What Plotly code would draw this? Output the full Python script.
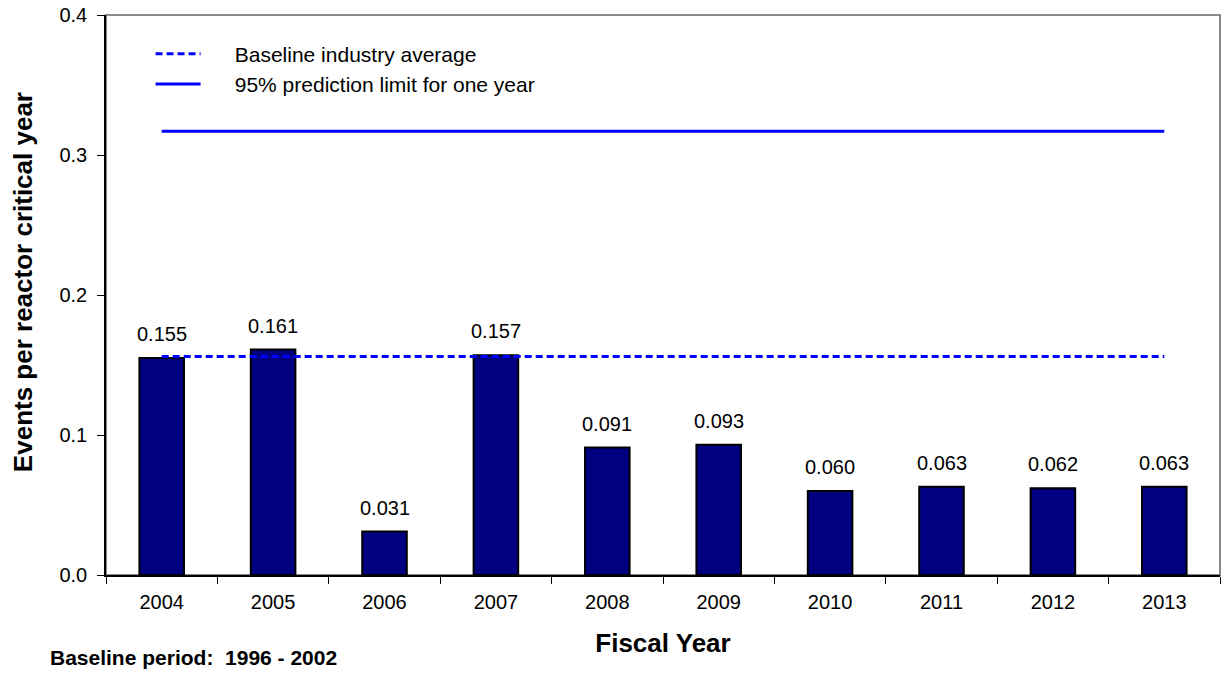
import plotly.graph_objects as go

# data
years = ["2004", "2005", "2006", "2007", "2008", "2009", "2010", "2011", "2012", "2013"]
rates = [0.155, 0.161, 0.031, 0.157, 0.091, 0.093, 0.060, 0.063, 0.062, 0.063]
baseline_avg = 0.156
prediction_limit = 0.317
y_ticks = [0.0, 0.1, 0.2, 0.3, 0.4]

FONT = "Liberation Sans, Arial, sans-serif"
PAD = "\u00a0" * 5  # pushes legend text away from the sample line

fig = go.Figure()

fig.add_trace(go.Bar(
    x=years,
    y=rates,
    marker=dict(color="#000080", line=dict(color="black", width=2)),
    showlegend=False,
    hoverinfo="x+y",
))

fig.add_trace(go.Scatter(
    x=[years[0], years[-1]],
    y=[baseline_avg, baseline_avg],
    mode="lines",
    name=PAD + "Baseline industry average",
    line=dict(color="#0000FF", width=3, dash="7px,4px"),
))

fig.add_trace(go.Scatter(
    x=[years[0], years[-1]],
    y=[prediction_limit, prediction_limit],
    mode="lines",
    name=PAD + "95% prediction limit for one year",
    line=dict(color="#0000FF", width=3),
))

# value labels above bars (category axis -> annotations take the category index)
for i, v in enumerate(rates):
    fig.add_annotation(
        x=i, y=v, text=f"{v:.3f}", showarrow=False,
        yanchor="bottom", yshift=11,
        font=dict(size=20, color="black", family=FONT),
    )

# y axis title as an annotation so it can sit slightly above centre
fig.add_annotation(
    xref="paper", yref="paper", x=-0.0745, y=0.523,
    xanchor="center", yanchor="middle", showarrow=False, textangle=-90,
    text="<b>Events per reactor critical year</b>",
    font=dict(size=26, color="black", family=FONT),
)

fig.add_annotation(
    xref="paper", yref="paper", x=-0.052, y=-0.148,
    xanchor="left", yanchor="middle", showarrow=False,
    text="<b>Baseline period:\u00a0 1996 - 2002</b>",
    font=dict(size=21, color="black", family=FONT),
)

# grey frame on top / right
fig.add_shape(
    type="rect", xref="paper", yref="paper", x0=0, y0=0, x1=1, y1=1,
    line=dict(color="#8a8a8a", width=2), layer="below",
)

fig.update_layout(
    width=1224,
    height=675,
    margin=dict(l=106, r=4, t=15, b=100),
    plot_bgcolor="white",
    paper_bgcolor="white",
    font=dict(family=FONT, color="black", size=20),
    bargap=0.6,
    legend=dict(
        x=0.04, y=0.967, xanchor="left", yanchor="top",
        bgcolor="rgba(0,0,0,0)", font=dict(size=21),
        tracegroupgap=0, itemwidth=45,
    ),
    xaxis=dict(
        type="category", automargin=False,
        showline=True, linecolor="black", linewidth=1.5,
        ticks="outside", tickson="boundaries", ticklen=7, tickcolor="black",
        ticklabelstandoff=8,
        showgrid=False,
        title=dict(text="<b>Fiscal Year</b>", font=dict(size=26), standoff=22),
    ),
    yaxis=dict(
        automargin=False,
        range=[0, 0.4], tickvals=y_ticks, tickformat=".1f",
        showline=True, linecolor="black", linewidth=1.5,
        ticks="outside", ticklen=7, tickcolor="black",
        ticklabelstandoff=6,
        showgrid=False, zeroline=False,
    ),
)

fig.write_html(
    "out.html",
    config={"displayModeBar": False},
    post_script="document.body.style.margin='0';",
)
